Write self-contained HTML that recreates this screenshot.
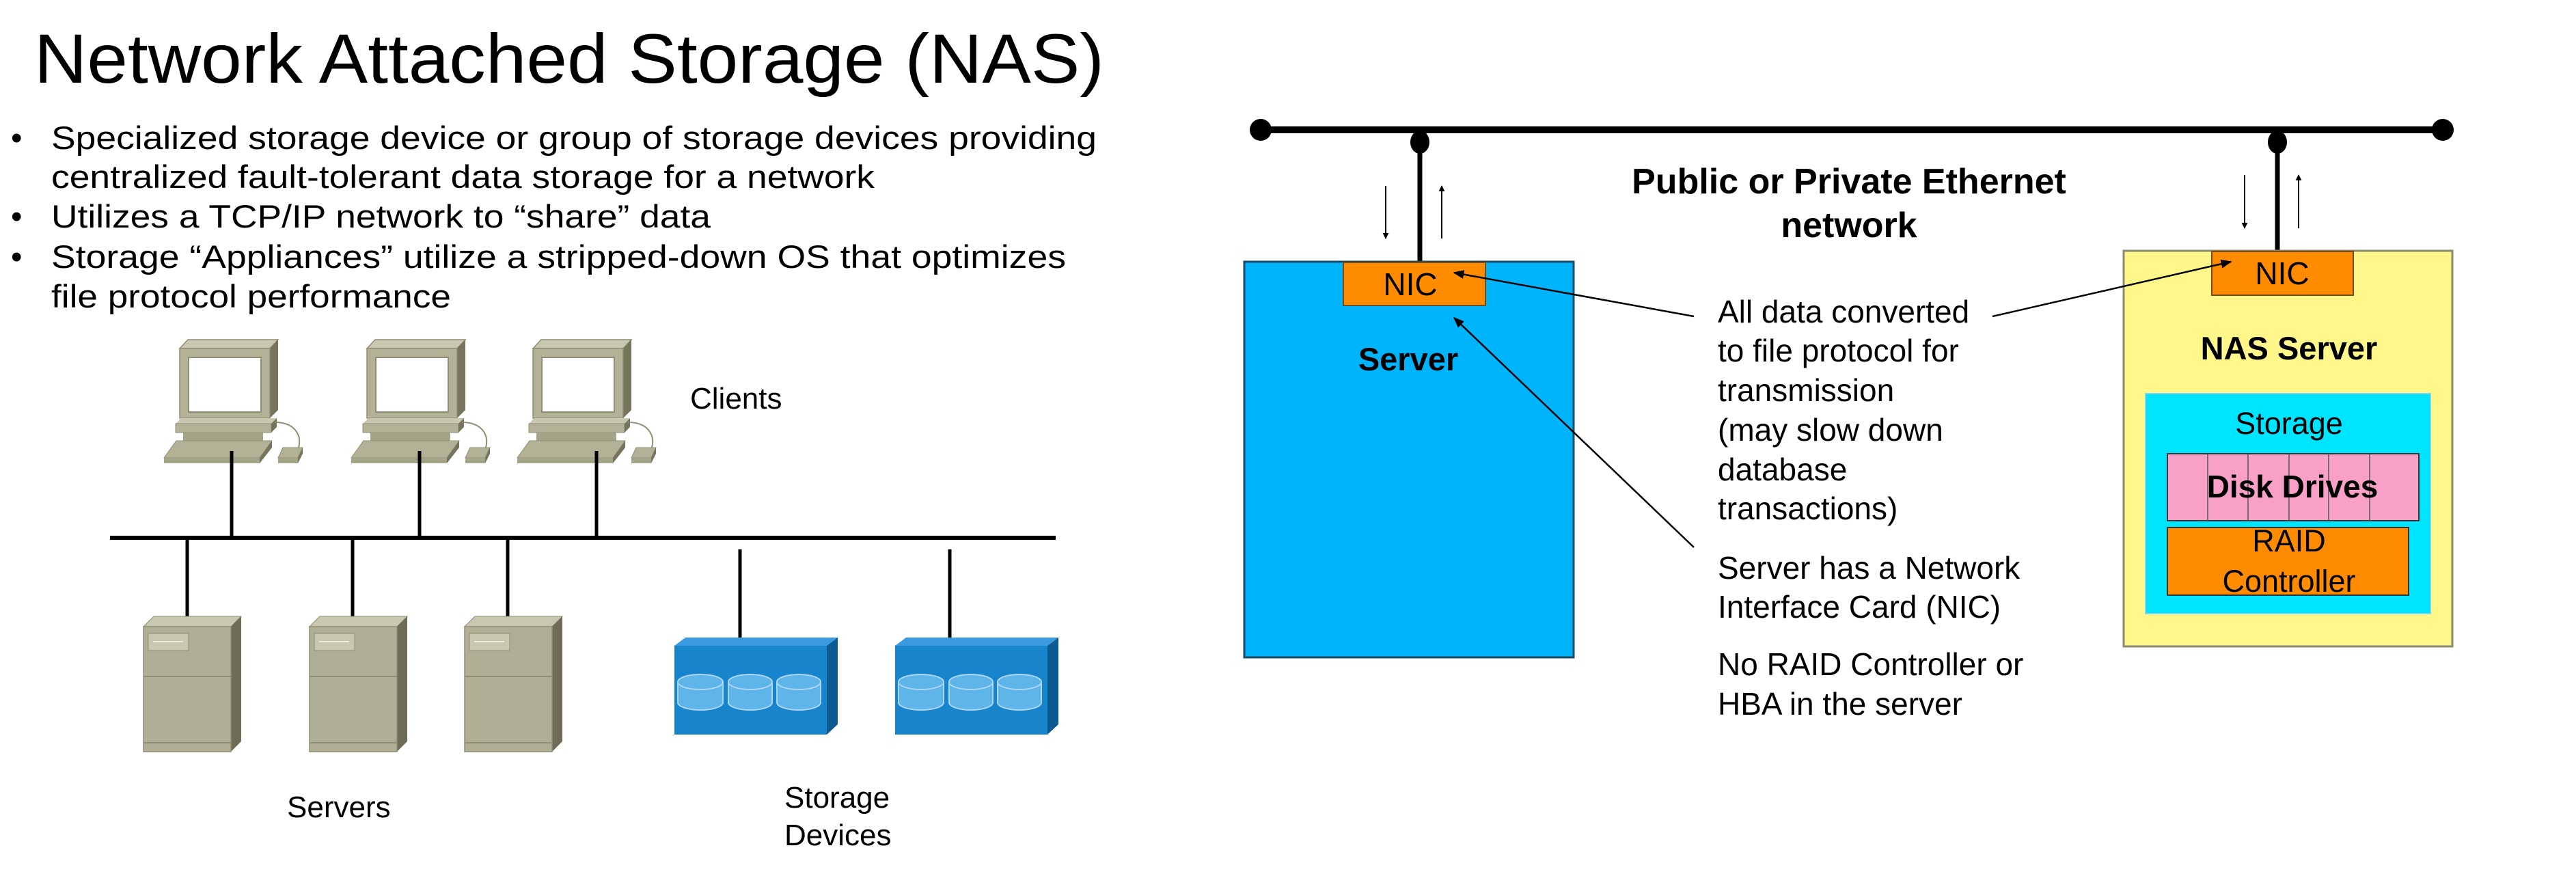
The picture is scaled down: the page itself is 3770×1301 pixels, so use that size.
<!DOCTYPE html>
<html><head><meta charset="utf-8"><style>
html,body{margin:0;padding:0;background:#fff;}
svg{display:block;}
text{font-family:"Liberation Sans",Arial,sans-serif;fill:#000;}
</style></head><body>
<svg width="3770" height="1301" viewBox="0 0 3770 1301" xmlns="http://www.w3.org/2000/svg">
<defs>
<g id="client">
  <polygon points="263,510 275,497 407,497 395,510" fill="#c9c7b0" stroke="#8f8d74" stroke-width="1.5"/>
  <polygon points="395,510 407,497 407,600 395,612" fill="#76745c"/>
  <rect x="263" y="510" width="132" height="102" fill="#b3b196" stroke="#8f8d74" stroke-width="1.5"/>
  <rect x="276" y="523" width="106" height="80" fill="#fff" stroke="#8f8d74" stroke-width="2"/>
  <polygon points="257,620 265,612 405,612 397,620" fill="#c9c7b0"/>
  <rect x="257" y="620" width="140" height="13" fill="#b3b196" stroke="#8f8d74" stroke-width="1"/>
  <polygon points="397,620 405,612 405,625 397,633" fill="#76745c"/>
  <rect x="268" y="633" width="117" height="14" fill="#a5a388"/>
  <polygon points="258,645 398,645 380,670 240,670" fill="#b3b196" stroke="#8f8d74" stroke-width="1"/>
  <polygon points="240,670 380,670 380,678 240,678" fill="#a5a388"/>
  <polygon points="380,670 398,645 398,655 380,678" fill="#76745c"/>
  <path d="M402,618 C430,618 442,635 437,655" fill="none" stroke="#8f8d74" stroke-width="2"/>
  <polygon points="414,655 443,655 436,670 407,670" fill="#b3b196" stroke="#8f8d74" stroke-width="1"/>
  <rect x="407" y="670" width="29" height="8" fill="#a5a388"/>
  <polygon points="436,670 443,655 443,664 436,678" fill="#76745c"/>
</g>
<g id="server">
  <polygon points="210,917 225,902 353,902 338,917" fill="#c9c7b0" stroke="#8f8d74" stroke-width="1"/>
  <polygon points="338,917 353,902 353,1085 338,1100" fill="#6e6c56"/>
  <rect x="210" y="917" width="128" height="183" fill="#b0ae94" stroke="#8f8d74" stroke-width="1.5"/>
  <rect x="217" y="927" width="59" height="25" fill="#c9c7b0" stroke="#8f8d74" stroke-width="1"/>
  <line x1="224" y1="939" x2="268" y2="939" stroke="#eeeadc" stroke-width="2"/>
  <line x1="210" y1="990" x2="338" y2="990" stroke="#8f8d74" stroke-width="2"/>
  <line x1="210" y1="1087" x2="338" y2="1087" stroke="#8f8d74" stroke-width="2"/>
</g>
<g id="stor">
  <polygon points="987,945 1003,933 1226,933 1210,945" fill="#3a9be0"/>
  <polygon points="1210,945 1226,933 1226,1060 1210,1075" fill="#0b5a92"/>
  <rect x="987" y="945" width="223" height="130" fill="#1784cc"/>
  <g fill="#5fb4ea" stroke="#a9d6f5" stroke-width="2">
    <path d="M992,998 v30 a33,11 0 0 0 66,0 v-30"/><ellipse cx="1025" cy="998" rx="33" ry="11"/>
    <path d="M1066,998 v30 a32,11 0 0 0 64,0 v-30"/><ellipse cx="1098" cy="998" rx="32" ry="11"/>
    <path d="M1137,998 v30 a32,11 0 0 0 64,0 v-30"/><ellipse cx="1169" cy="998" rx="32" ry="11"/>
  </g>
</g>
<marker id="ah" viewBox="0 0 10 10" refX="9" refY="5" markerWidth="9" markerHeight="9" orient="auto-start-reverse" markerUnits="userSpaceOnUse"><path d="M0,0 L10,5 L0,10 z" fill="#000"/></marker>
<marker id="ah2" viewBox="0 0 10 10" refX="9" refY="5" markerWidth="16" markerHeight="16" orient="auto" markerUnits="userSpaceOnUse"><path d="M0,1 L10,5 L0,9 z" fill="#000"/></marker>
</defs>

<text x="50" y="121" font-size="102" textLength="1566" lengthAdjust="spacingAndGlyphs">Network Attached Storage (NAS)</text>
<g font-size="47">
<text x="16" y="218">•</text><text x="75" y="218" textLength="1530" lengthAdjust="spacingAndGlyphs">Specialized storage device or group of storage devices providing</text>
<text x="75" y="275" textLength="1205" lengthAdjust="spacingAndGlyphs">centralized fault-tolerant data storage for a network</text>
<text x="16" y="333">•</text><text x="75" y="333" textLength="965" lengthAdjust="spacingAndGlyphs">Utilizes a TCP/IP network to “share” data</text>
<text x="16" y="392">•</text><text x="75" y="392" textLength="1485" lengthAdjust="spacingAndGlyphs">Storage “Appliances” utilize a stripped-down OS that optimizes</text>
<text x="75" y="450" textLength="585" lengthAdjust="spacingAndGlyphs">file protocol performance</text>
</g>

<use href="#client"/>
<use href="#client" transform="translate(274,0)"/>
<use href="#client" transform="translate(517,0)"/>
<g stroke="#000" stroke-width="5">
<line x1="339" y1="660" x2="339" y2="787"/>
<line x1="614" y1="660" x2="614" y2="787"/>
<line x1="873" y1="660" x2="873" y2="787"/>
<line x1="161" y1="787" x2="1545" y2="787" stroke-width="6"/>
<line x1="274" y1="787" x2="274" y2="904"/>
<line x1="516" y1="787" x2="516" y2="904"/>
<line x1="743" y1="787" x2="743" y2="904"/>
<line x1="1083" y1="804" x2="1083" y2="935"/>
<line x1="1390" y1="804" x2="1390" y2="935"/>
</g>
<use href="#server"/>
<use href="#server" transform="translate(243,0)"/>
<use href="#server" transform="translate(470,0)"/>
<use href="#stor"/>
<use href="#stor" transform="translate(323,0)"/>
<g font-size="44">
<text x="1010" y="598">Clients</text>
<text x="420" y="1196">Servers</text>
<text x="1148" y="1182">Storage</text>
<text x="1148" y="1237">Devices</text>
</g>

<line x1="1845" y1="190" x2="3575" y2="190" stroke="#000" stroke-width="10"/>
<circle cx="1845" cy="190" r="16" fill="#000"/>
<circle cx="3575" cy="190" r="16" fill="#000"/>
<ellipse cx="2078" cy="208" rx="14" ry="17" fill="#000"/>
<ellipse cx="3333" cy="208" rx="14" ry="17" fill="#000"/>
<line x1="2078" y1="208" x2="2078" y2="385" stroke="#000" stroke-width="7"/>
<line x1="3333" y1="208" x2="3333" y2="370" stroke="#000" stroke-width="7"/>
<g stroke="#000" stroke-width="2">
<line x1="2028" y1="272" x2="2028" y2="349" marker-end="url(#ah)"/>
<line x1="2110" y1="349" x2="2110" y2="272" marker-end="url(#ah)"/>
<line x1="3285" y1="256" x2="3285" y2="334" marker-end="url(#ah)"/>
<line x1="3364" y1="334" x2="3364" y2="256" marker-end="url(#ah)"/>
</g>
<text x="2706" y="283" font-size="52" font-weight="bold" text-anchor="middle">Public or Private Ethernet</text>
<text x="2706" y="347" font-size="52" font-weight="bold" text-anchor="middle">network</text>

<rect x="1821" y="383" width="482" height="579" fill="#00b4fb" stroke="#1a4a66" stroke-width="3"/>
<rect x="1966" y="384" width="208" height="63" fill="#ff8c00" stroke="#7a4a10" stroke-width="2"/>
<text x="2064" y="432" font-size="46" text-anchor="middle">NIC</text>
<text x="2061" y="542" font-size="47" font-weight="bold" text-anchor="middle">Server</text>

<rect x="3108" y="367" width="481" height="579" fill="#fff78a" stroke="#8a8a70" stroke-width="3"/>
<rect x="3237" y="368" width="207" height="64" fill="#ff8c00" stroke="#7a4a10" stroke-width="2"/>
<text x="3340" y="416" font-size="46" text-anchor="middle">NIC</text>
<text x="3350" y="526" font-size="47" font-weight="bold" text-anchor="middle">NAS Server</text>
<rect x="3140" y="576" width="417" height="322" fill="#00e5ff" stroke="#7ad8f0" stroke-width="2"/>
<text x="3350" y="635" font-size="45" text-anchor="middle">Storage</text>
<rect x="3172" y="664" width="368" height="98" fill="#f9a0c8" stroke="#333" stroke-width="2"/>
<g stroke="#555" stroke-width="1.5">
<line x1="3231" y1="664" x2="3231" y2="762"/><line x1="3290" y1="664" x2="3290" y2="762"/>
<line x1="3350" y1="664" x2="3350" y2="762"/><line x1="3408" y1="664" x2="3408" y2="762"/>
<line x1="3468" y1="664" x2="3468" y2="762"/>
</g>
<text x="3355" y="728" font-size="46" font-weight="bold" text-anchor="middle">Disk Drives</text>
<rect x="3172" y="772" width="353" height="99" fill="#ff8c00" stroke="#333" stroke-width="2"/>
<text x="3350" y="807" font-size="45" text-anchor="middle">RAID</text>
<text x="3350" y="866" font-size="45" text-anchor="middle">Controller</text>

<g stroke="#000" stroke-width="2.5" fill="none">
<line x1="2479" y1="463" x2="2128" y2="399" marker-end="url(#ah2)"/>
<line x1="2916" y1="463" x2="3265" y2="383" marker-end="url(#ah2)"/>
<line x1="2479" y1="801" x2="2128" y2="465" marker-end="url(#ah2)"/>
</g>
<g font-size="46">
<text x="2514" y="472">All data converted</text>
<text x="2514" y="529">to file protocol for</text>
<text x="2514" y="587">transmission</text>
<text x="2514" y="645">(may slow down</text>
<text x="2514" y="703">database</text>
<text x="2514" y="760">transactions)</text>
<text x="2514" y="847">Server has a Network</text>
<text x="2514" y="904">Interface Card (NIC)</text>
<text x="2514" y="988">No RAID Controller or</text>
<text x="2514" y="1046">HBA in the server</text>
</g>
</svg>
</body></html>
